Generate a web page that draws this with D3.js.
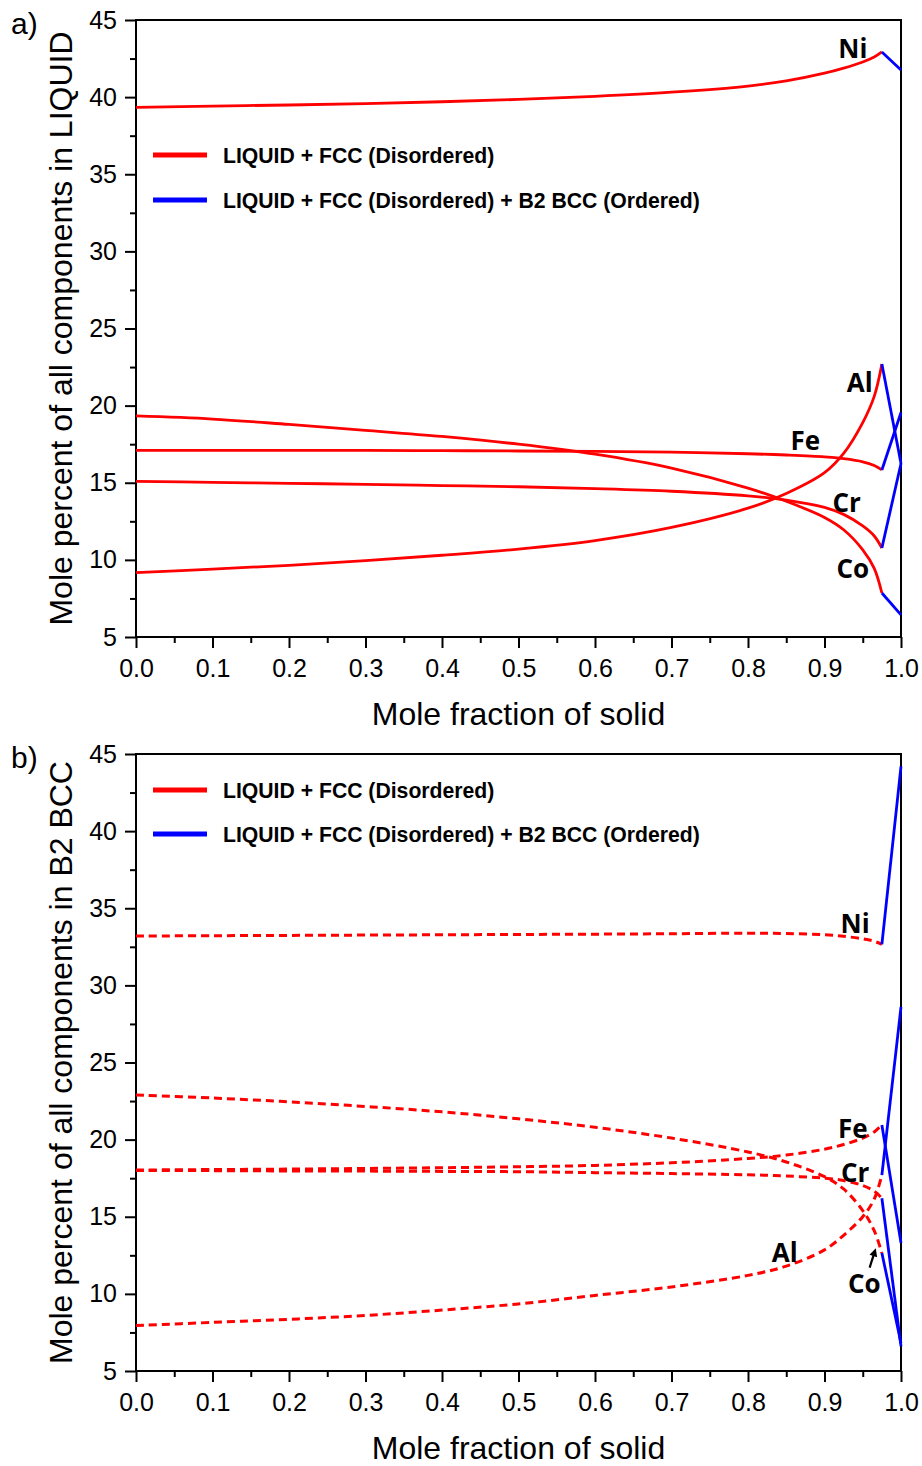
<!DOCTYPE html>
<html>
<head>
<meta charset="utf-8">
<script src="https://cdn.jsdelivr.net/npm/d3@7/dist/d3.min.js"></script>
<style>
  body { margin: 0; background: #ffffff; }
  svg { display: block; }
</style>
</head>
<body>
<div id="chart"></div>
<script>
// mole fraction of solid (two-phase part, LIQUID + FCC)
const xSolid = [0, 0.1, 0.2, 0.3, 0.4, 0.5, 0.6, 0.7, 0.8, 0.85, 0.9, 0.925, 0.95, 0.965, 0.975];
// three-phase part (LIQUID + FCC + B2)
const xThree = [0.975, 1.0];

const elements = ['Ni', 'Al', 'Fe', 'Cr', 'Co'];

// a) composition of LIQUID
const liqNi = [39.34, 39.42, 39.49, 39.58, 39.7, 39.85, 40.05, 40.32, 40.72, 41.05, 41.55, 41.88, 42.28, 42.6, 42.93];
const liqAl = [9.17, 9.4, 9.65, 9.95, 10.3, 10.7, 11.25, 12.1, 13.35, 14.3, 15.65, 16.9, 18.9, 20.6, 22.7];
const liqFe = [17.1, 17.1, 17.1, 17.1, 17.08, 17.06, 17.03, 16.98, 16.88, 16.8, 16.68, 16.56, 16.36, 16.12, 15.83];
const liqCr = [15.09, 15.03, 14.96, 14.9, 14.82, 14.74, 14.62, 14.45, 14.15, 13.88, 13.4, 12.95, 12.2, 11.55, 10.77];
const liqCo = [19.33, 19.13, 18.78, 18.4, 18.0, 17.5, 16.85, 15.95, 14.65, 13.8, 12.75, 11.95, 10.65, 9.45, 7.85];

const liqNi3 = [42.93, 41.76];
const liqAl3 = [22.7, 16.25];
const liqFe3 = [15.83, 19.55];
const liqCr3 = [10.77, 16.25];
const liqCo3 = [7.85, 6.43];

// b) composition of B2 BCC
const bccNi = [33.2, 33.22, 33.24, 33.26, 33.28, 33.3, 33.32, 33.35, 33.38, 33.36, 33.28, 33.18, 33.02, 32.86, 32.66];
const bccAl = [7.95, 8.15, 8.35, 8.6, 8.95, 9.35, 9.9, 10.45, 11.2, 11.8, 12.85, 13.8, 15.0, 16.15, 17.7];
const bccFe = [18.03, 18.06, 18.09, 18.13, 18.18, 18.24, 18.33, 18.5, 18.78, 19.0, 19.38, 19.68, 20.1, 20.5, 20.95];
const bccCr = [18.0, 17.99, 17.97, 17.96, 17.94, 17.92, 17.86, 17.8, 17.72, 17.64, 17.5, 17.35, 17.02, 16.66, 16.2];
const bccCo = [22.89, 22.7, 22.45, 22.15, 21.8, 21.35, 20.8, 20.1, 19.2, 18.55, 17.6, 16.8, 15.4, 14.1, 12.65];

const bccNi3 = [32.66, 44.2];
const bccAl3 = [17.7, 28.6];
const bccFe3 = [20.95, 13.3];
const bccCr3 = [16.2, 6.6];
const bccCo3 = [12.65, 6.8];

// axes
const xTicks = [0, 0.1, 0.2, 0.3, 0.4, 0.5, 0.6, 0.7, 0.8, 0.9, 1.0];
const xTickLabels = ['0.0', '0.1', '0.2', '0.3', '0.4', '0.5', '0.6', '0.7', '0.8', '0.9', '1.0'];
const xMinor = [0.05, 0.15, 0.25, 0.35, 0.45, 0.55, 0.65, 0.75, 0.85, 0.95];
const yTicks = [5, 10, 15, 20, 25, 30, 35, 40, 45];
const yMinor = [7.5, 12.5, 17.5, 22.5, 27.5, 32.5, 37.5, 42.5];

const legendLabels = ['LIQUID + FCC (Disordered)', 'LIQUID + FCC (Disordered) + B2 BCC (Ordered)'];

const RED = '#ff0000';
const BLUE = '#0000ff';
const FONT = '"Liberation Sans", Arial, sans-serif';

/**
 * Two stacked panels: composition vs. mole fraction of solid
 */
class CompositionChart {
    constructor(containerId) {
        this.container = document.getElementById(containerId);
        this.width = 922;
        this.height = 1466;
        this.left = 136;
        this.right = 901;

        this.svg = d3.select(this.container)
            .append('svg')
            .attr('width', this.width)
            .attr('height', this.height)
            .style('background', '#ffffff');
    }

    drawPanel(cfg) {
        const x = d3.scaleLinear().domain([0, 1]).range([this.left, this.right]);
        const y = d3.scaleLinear().domain([5, 45]).range([cfg.bottom, cfg.top]);
        const g = this.svg.append('g');

        // minor ticks
        g.append('g')
            .attr('transform', `translate(0, ${cfg.bottom})`)
            .call(d3.axisBottom(x).tickValues(xMinor).tickSize(6).tickFormat(''))
            .call(a => a.select('.domain').remove());
        g.append('g')
            .attr('transform', `translate(${this.left}, 0)`)
            .call(d3.axisLeft(y).tickValues(yMinor).tickSize(6).tickFormat(''))
            .call(a => a.select('.domain').remove());

        // major ticks + labels
        g.append('g')
            .attr('transform', `translate(0, ${cfg.bottom})`)
            .call(d3.axisBottom(x).tickValues(xTicks).tickSize(11).tickPadding(11)
                .tickFormat((d, i) => xTickLabels[i]))
            .call(a => a.select('.domain').remove());
        g.append('g')
            .attr('transform', `translate(${this.left}, 0)`)
            .call(d3.axisLeft(y).tickValues(yTicks).tickSize(11).tickPadding(8))
            .call(a => a.select('.domain').remove());

        g.selectAll('.tick line').attr('stroke', '#000').attr('stroke-width', 2);
        g.selectAll('.tick text')
            .attr('fill', '#000')
            .style('font-family', FONT)
            .style('font-size', '25px');

        // frame
        g.append('rect')
            .attr('x', this.left)
            .attr('y', cfg.top)
            .attr('width', this.right - this.left)
            .attr('height', cfg.bottom - cfg.top)
            .attr('fill', 'none')
            .attr('stroke', '#000')
            .attr('stroke-width', 2);

        // curves
        const line = d3.line()
            .x(d => x(d[0]))
            .y(d => y(d[1]))
            .curve(d3.curveCatmullRom.alpha(0.5));
        const straight = d3.line()
            .x(d => x(d[0]))
            .y(d => y(d[1]));

        cfg.red.forEach(vals => {
            g.append('path')
                .attr('d', line(xSolid.map((v, i) => [v, vals[i]])))
                .attr('fill', 'none')
                .attr('stroke', RED)
                .attr('stroke-width', cfg.dashed ? 3 : 2.8)
                .attr('stroke-dasharray', cfg.dashed ? '8,5' : null);
        });
        cfg.blue.forEach(vals => {
            g.append('path')
                .attr('d', straight(xThree.map((v, i) => [v, vals[i]])))
                .attr('fill', 'none')
                .attr('stroke', BLUE)
                .attr('stroke-width', 2.8);
        });

        // element labels
        elements.forEach((name, i) => {
            const p = cfg.labelPos[i];
            g.append('text')
                .attr('x', x(p[0]))
                .attr('y', y(p[1]))
                .attr('text-anchor', 'middle')
                .attr('dominant-baseline', 'central')
                .style('font-family', '"Open Sans", sans-serif')
                .style('font-weight', 700)
                .style('font-size', '26px')
                .text(name);
        });

        // arrow (panel b, Co)
        if (cfg.arrow) {
            const [p0, p1] = cfg.arrow;
            const x0 = x(p0[0]), y0 = y(p0[1]), x1 = x(p1[0]), y1 = y(p1[1]);
            const ang = Math.atan2(y1 - y0, x1 - x0);
            const hl = 8, hw = 4;
            g.append('line')
                .attr('x1', x0).attr('y1', y0)
                .attr('x2', x1 - Math.cos(ang) * 5).attr('y2', y1 - Math.sin(ang) * 5)
                .attr('stroke', '#000')
                .attr('stroke-width', 2.2);
            const bx = x1 - Math.cos(ang) * hl, by = y1 - Math.sin(ang) * hl;
            g.append('path')
                .attr('d', `M${x1},${y1}L${bx - Math.sin(ang) * hw},${by + Math.cos(ang) * hw}` +
                    `L${bx + Math.sin(ang) * hw},${by - Math.cos(ang) * hw}Z`)
                .attr('fill', '#000');
        }

        // legend
        [RED, BLUE].forEach((c, i) => {
            const ly = cfg.legendY[i];
            g.append('line')
                .attr('x1', 153).attr('x2', 207)
                .attr('y1', ly).attr('y2', ly)
                .attr('stroke', c)
                .attr('stroke-width', 5);
            g.append('text')
                .attr('x', 223)
                .attr('y', ly)
                .attr('dominant-baseline', 'central')
                .style('font-family', FONT)
                .style('font-weight', 700)
                .style('font-size', '21.2px')
                .text(legendLabels[i]);
        });

        // axis titles
        g.append('text')
            .attr('x', (this.left + this.right) / 2)
            .attr('y', cfg.bottom + 88)
            .attr('text-anchor', 'middle')
            .style('font-family', FONT)
            .style('font-size', '32px')
            .text('Mole fraction of solid');
        g.append('text')
            .attr('transform', `translate(72, ${(cfg.top + cfg.bottom) / 2}) rotate(-90)`)
            .attr('text-anchor', 'middle')
            .style('font-family', FONT)
            .style('font-size', '32px')
            .text(cfg.yTitle);

        // panel letter
        g.append('text')
            .attr('x', 11)
            .attr('y', cfg.top + 14)
            .style('font-family', FONT)
            .style('font-size', '30px')
            .text(cfg.letter);
    }
}

const chart = new CompositionChart('chart');

chart.drawPanel({
    top: 20,
    bottom: 637,
    letter: 'a)',
    yTitle: 'Mole percent of all components in LIQUID',
    red: [liqNi, liqAl, liqFe, liqCr, liqCo],
    blue: [liqNi3, liqAl3, liqFe3, liqCr3, liqCo3],
    dashed: false,
    legendY: [155, 200],
    labelPos: [[0.937, 43.18], [0.946, 21.53], [0.875, 17.77], [0.929, 13.75], [0.937, 9.47]]
});

chart.drawPanel({
    top: 754,
    bottom: 1371,
    letter: 'b)',
    yTitle: 'Mole percent of all components in B2 BCC',
    red: [bccNi, bccAl, bccFe, bccCr, bccCo],
    blue: [bccNi3, bccAl3, bccFe3, bccCr3, bccCo3],
    dashed: true,
    legendY: [790, 834],
    labelPos: [[0.94, 34.04], [0.848, 12.71], [0.937, 20.75], [0.94, 17.9], [0.952, 10.7]],
    arrow: [[0.959, 11.7], [0.967, 12.95]]
});
</script>
</body>
</html>
